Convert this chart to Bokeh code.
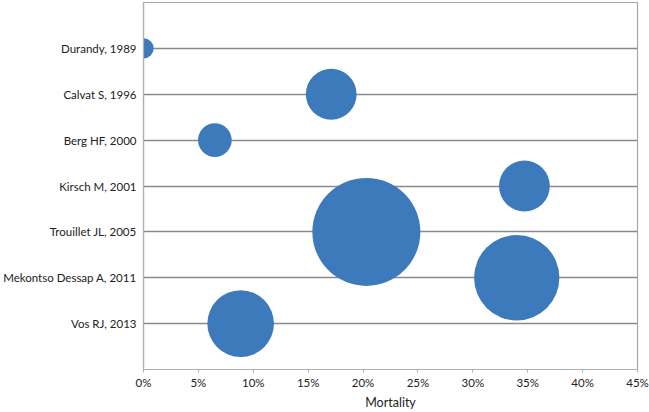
import math
from bokeh.plotting import figure
from bokeh.models import Range1d, FixedTicker, NumeralTickFormatter, ColumnDataSource
from bokeh.embed import file_html
from bokeh.resources import INLINE

# ---- data ----
studies = ["Durandy, 1989", "Calvat S, 1996", "Berg HF, 2000", "Kirsch M, 2001",
           "Trouillet JL, 2005", "Mekontso Dessap A, 2011", "Vos RJ, 2013"]
mortality = [0.0, 0.171, 0.065, 0.347, 0.203, 0.340, 0.0885]
bubble_n = [8, 50, 22, 50, 226, 141, 86]
x_ticks = [0.0, 0.05, 0.10, 0.15, 0.20, 0.25, 0.30, 0.35, 0.40, 0.45]

# ---- derived ----
rows = list(range(len(studies), 0, -1))          # top study on the highest row
max_diam = 108
diam = [max_diam * math.sqrt(n / max(bubble_n)) for n in bubble_n]
src = ColumnDataSource(dict(x=mortality, y=rows, d=diam, name=studies, n=bubble_n))

FONT = "Lato"
FS = "11.5px"
TXT = "#222222"

p = figure(width=649, height=412, output_backend="svg", toolbar_location=None,
           x_range=Range1d(0, 0.45), y_range=Range1d(0, len(studies) + 1),
           min_border_left=141, min_border_right=12, min_border_top=2, min_border_bottom=40)
p.background_fill_color = "white"
p.border_fill_color = "white"
p.outline_line_color = "#a6a6a6"
p.outline_line_width = 1.2

p.scatter("x", "y", size="d", source=src, fill_color="#3D7ABC", line_color=None)

# grid
p.xgrid.visible = False
p.ygrid.ticker = FixedTicker(ticks=rows)
p.ygrid.grid_line_color = "#8a8a8a"
p.ygrid.grid_line_width = 1.6

# x axis
xa = p.xaxis[0]
xa.ticker = FixedTicker(ticks=x_ticks)
xa.formatter = NumeralTickFormatter(format="0%")
xa.axis_line_color = "#b0b0b0"
xa.axis_line_width = 1.2
xa.major_tick_line_color = "#b0b0b0"
xa.major_tick_out = 3
xa.major_tick_in = 0
xa.minor_tick_line_color = None
xa.major_label_standoff = 3
xa.major_label_text_font = FONT
xa.major_label_text_font_size = FS
xa.major_label_text_color = TXT
xa.axis_label = "Mortality"
xa.axis_label_text_font = FONT
xa.axis_label_text_font_size = "12.5px"
xa.axis_label_text_font_style = "normal"
xa.axis_label_text_color = TXT
xa.axis_label_standoff = 3

# y axis
ya = p.yaxis[0]
ya.ticker = FixedTicker(ticks=rows)
ya.major_label_overrides = {r: s for r, s in zip(rows, studies)}
ya.axis_line_color = "#b0b0b0"
ya.axis_line_width = 1.2
ya.major_tick_line_color = None
ya.major_tick_out = 0
ya.major_tick_in = 0
ya.minor_tick_line_color = None
ya.major_label_standoff = 7
ya.major_label_text_font = FONT
ya.major_label_text_font_size = FS
ya.major_label_text_color = TXT

open("out.html", "w").write(file_html(p, INLINE))
